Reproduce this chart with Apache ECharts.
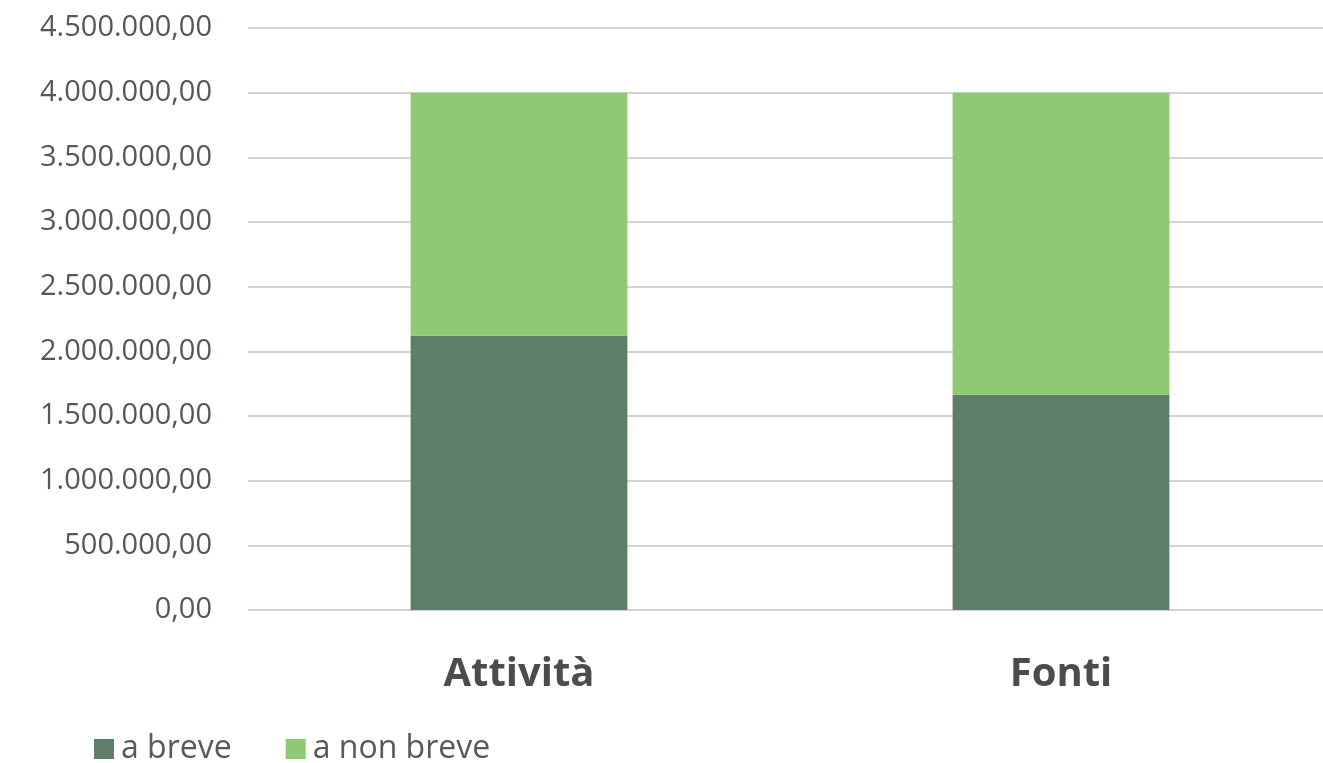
<!DOCTYPE html>
<html><head><meta charset="utf-8">
<script src="https://cdn.jsdelivr.net/npm/echarts@6/dist/echarts.min.js"></script>
<style>html,body{margin:0;padding:0;background:#fff}#c{width:1323px;height:763px}</style>
</head><body><div id="c"></div>
<script>
const categories = ['Attività', 'Fonti'];
const seriesNames = ['a breve', 'a non breve'];
const aBreve = [2120000, 1665000];
const aNonBreve = [1880000, 2335000];
const yMin = 0, yMax = 4500000, yStep = 500000;

function fmt(v) {
  const s = Math.round(v).toString().replace(/\B(?=(\d{3})+(?!\d))/g, '.');
  return s + ',00';
}
const chart = echarts.init(document.getElementById('c'));
chart.setOption({
  animation: false,
  textStyle: { fontFamily: 'Open Sans' },
  grid: { left: 248, width: 1084, top: 28, bottom: 153, containLabel: false, outerBoundsMode: 'none' },
  legend: {
    left: 89, top: 728, itemWidth: 20, itemHeight: 20, itemGap: 54,
    icon: 'rect',
    textStyle: { fontSize: 32, color: '#595959', fontFamily: 'Open Sans', padding: [0, 0, 0, 2] },
    data: seriesNames
  },
  xAxis: {
    type: 'category', data: categories,
    axisLine: { show: false }, axisTick: { show: false },
    axisLabel: { fontSize: 40, fontWeight: 'bold', color: '#4a4d50', margin: 45 }
  },
  yAxis: {
    type: 'value', min: yMin, max: yMax, interval: yStep,
    axisLine: { show: false }, axisTick: { show: false },
    splitLine: { lineStyle: { color: '#d3d3d3', width: 2 } },
    axisLabel: { formatter: fmt, fontSize: 29, color: '#54585a', margin: 36 }
  },
  series: [
    { name: seriesNames[0], type: 'bar', stack: 'tot', data: aBreve, barWidth: '40%',
      itemStyle: { color: '#5f7e6a' } },
    { name: seriesNames[1], type: 'bar', stack: 'tot', data: aNonBreve, barWidth: '40%',
      itemStyle: { color: '#8fc973' } }
  ]
});
</script></body></html>
